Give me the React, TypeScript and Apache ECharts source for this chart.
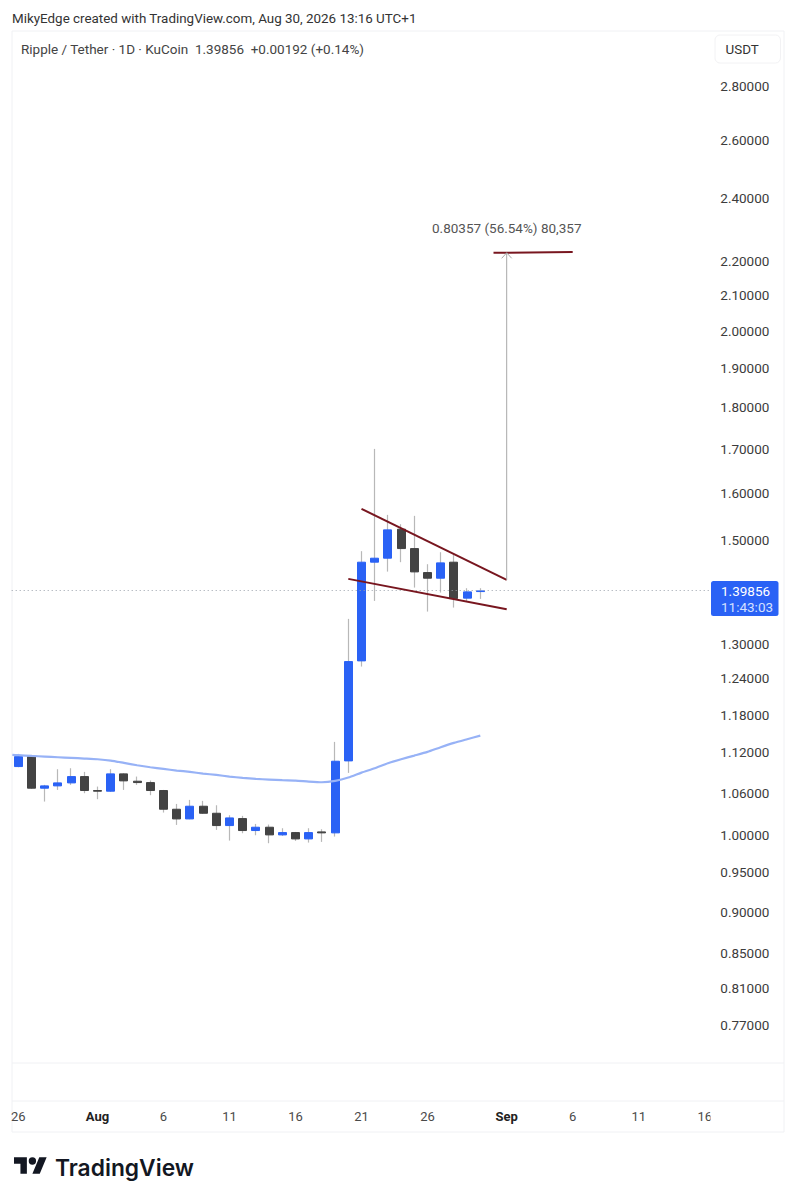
import React, { useEffect, useRef } from "react";
import * as echarts from "echarts";

const categories = ["26","27","28","29","30","31","Aug","2","3","4","5","6","7","8","9","10","11","12","13","14","15","16","17","18","19","20","21","22","23","24","25","26","27","28","29","30","31","Sep","2","3","4","5","6","7","8","9","10","11","12","13","14","15","16"];
const shownDayLabels = ["26","Aug","6","11","16","21","Sep"];
const opens = [1.0985,1.1137,1.0663,1.0697,1.0741,1.0835,1.0629,1.0619,1.0875,1.0766,1.0746,1.0629,1.0359,1.0222,1.0402,1.0302,1.0129,1.0227,1.0060,1.0106,1.0000,1.0032,0.9945,1.0041,1.0028,1.1071,1.2703,1.4549,1.4629,1.5224,1.4824,1.4343,1.4232,1.4549,1.3847,1.3973];
const closes = [1.1137,1.0663,1.0697,1.0741,1.0835,1.0629,1.0619,1.0875,1.0771,1.0746,1.0629,1.0359,1.0222,1.0402,1.0302,1.0129,1.0236,1.0060,1.0106,1.0000,1.0032,0.9945,1.0032,1.0028,1.1066,1.2691,1.4549,1.4629,1.5210,1.4824,1.4356,1.4232,1.4535,1.3839,1.3967,1.39856];
const lows = [1.0975,1.0653,1.0469,1.0638,1.0712,1.0590,1.0503,1.0609,1.0638,1.0712,1.0561,1.0312,1.0138,1.0218,1.0293,1.0069,0.9922,1.0023,0.9995,0.9886,0.9986,0.9918,0.9895,0.9904,0.9977,1.0890,1.2604,1.3795,1.4362,1.4549,1.4050,1.3594,1.3954,1.3669,1.3782,1.3833];
const highs = [1.1178,1.1163,1.0712,1.0945,1.0960,1.0905,1.0687,1.0945,1.0885,1.0835,1.0776,1.0638,1.0435,1.0493,1.0479,1.0416,1.0274,1.0265,1.0152,1.0143,1.0092,1.0041,1.0092,1.0078,1.1364,1.3458,1.4771,1.7001,1.5527,1.5329,1.5506,1.4509,1.4750,1.4696,1.4038,1.4038];
const maValues = [1.1158,1.1147,1.1137,1.1127,1.1117,1.1107,1.1096,1.1076,1.1041,1.1005,1.0975,1.0950,1.0925,1.0905,1.0880,1.0860,1.0835,1.0815,1.0800,1.0790,1.0781,1.0776,1.0761,1.0751,1.0771,1.0820,1.0894,1.0960,1.1036,1.1097,1.1152,1.1209,1.1281,1.1348,1.1406,1.1463];
const priceTicks = [2.8,2.6,2.4,2.2,2.1,2.0,1.9,1.8,1.7,1.6,1.5,1.3,1.24,1.18,1.12,1.06,1.0,0.95,0.9,0.85,0.81,0.77];
const lastPrice = 1.39856;
const upperTrend = [[26,1.5656],[37,1.4199]];
const lowerTrend = [[25,1.4219],[37,1.3639]];
const targetLine = [[36,2.2262],[42,2.2283]];
const measureShaft = [[37,1.4199],[37,2.2262]];
const measureHead = [[36.62,2.2094],[37,2.2262],[37.38,2.2094]];
const maStart = [-0.45,1.1163];

const FONT = "Roboto";
const BLUE = "#2a62f5";
const DARK = "#434343";
const WICK = "#b8b8b8";
const MAROON = "#78161f";
const FRAME = "#f0f1f4";

echarts.graphic.registerShape("tvLogo", echarts.graphic.extendPath("M14 22H7V11H0V4h14v18zM28 22h-8l7.5-18h8L28 22zM24 8a4 4 0 1 1-8 0a4 4 0 1 1 8 0z", {}));

const trendSeries = (data: number[][], color: string, width: number) => ({
  type: "line", xAxisIndex: 1, yAxisIndex: 0, data, showSymbol: false, symbol: "none", silent: true, z: 6,
  lineStyle: { color, width },
});

export default function App() {
  const ref = useRef<HTMLDivElement>(null);
  useEffect(() => {
    const chart = echarts.init(ref.current!, null, { renderer: "svg" });
    const text = (x: number, y: number, t: string, size: number, fill: string, extra: any = {}) => ({
      type: "text", x, y, silent: true, z: 20,
      style: { text: t, fontFamily: FONT, fontSize: size, fill, verticalAlign: "middle", ...extra },
    });
    const hline = (y: number) => ({ type: "line", silent: true, z: 1, shape: { x1: 12, y1: y, x2: 784, y2: y }, style: { stroke: FRAME, lineWidth: 1 } });
    chart.setOption({
      animation: false,
      backgroundColor: "#ffffff",
      grid: { left: 11.7, top: 31, width: 699.6, height: 1070, containLabel: false },
      xAxis: [
        {
          type: "category", data: categories, boundaryGap: true,
          axisLine: { show: false }, axisTick: { show: false }, splitLine: { show: false },
          axisLabel: {
            margin: 9, color: "#4a4a4a", fontFamily: FONT, fontSize: 13,
            interval: (_: number, v: string) => shownDayLabels.includes(v),
            formatter: (v: string) => (v === "Aug" || v === "Sep" ? `{b|${v}}` : v),
            rich: { b: { fontFamily: FONT, fontSize: 13, fontWeight: 700, color: "#222222" } },
          },
        },
        { type: "value", min: -0.5, max: 52.5, show: false },
      ],
      yAxis: {
        type: "log", logBase: 10, position: "right", min: 0.6936, max: 3.02,
        axisLine: { show: false }, axisTick: { show: false }, splitLine: { show: false }, minorTick: { show: false }, minorSplitLine: { show: false },
        axisLabel: {
          customValues: priceTicks, margin: 9, color: "#3c3c3c", fontFamily: FONT, fontSize: 13.5,
          formatter: (v: number) => Number(v).toFixed(5),
        },
      },
      series: [
        {
          type: "candlestick", name: "wick", xAxisIndex: 0, yAxisIndex: 0, barWidth: 1, silent: true, z: 3,
          data: opens.map((o, i) => [o, closes[i], lows[i], highs[i]]),
          itemStyle: { color: WICK, color0: WICK, borderColor: WICK, borderColor0: WICK, borderWidth: 1.2 },
          markLine: {
            silent: true, symbol: "none", label: { show: false }, animation: false,
            lineStyle: { color: "#9aa0ab", type: [1, 3], width: 1 },
            data: [{ yAxis: lastPrice }],
          },
        },
        {
          type: "candlestick", name: "body", xAxisIndex: 0, yAxisIndex: 0, barWidth: 8.6, silent: true, z: 4,
          data: opens.map((o, i) => [o, closes[i], Math.min(o, closes[i]), Math.max(o, closes[i])]),
          itemStyle: { color: BLUE, color0: DARK, borderColor: BLUE, borderColor0: DARK, borderWidth: 1 },
        },
        {
          type: "line", name: "MA", xAxisIndex: 1, yAxisIndex: 0, showSymbol: false, symbol: "none", silent: true, z: 5, smooth: 0.2,
          data: [maStart, ...maValues.map((v, i) => [i, v])],
          lineStyle: { color: "#97b2f6", width: 2.2 },
        },
        trendSeries(upperTrend, MAROON, 2),
        trendSeries(lowerTrend, MAROON, 2),
        trendSeries(targetLine, MAROON, 2),
        trendSeries(measureShaft, "#a8a8a8", 1),
        trendSeries(measureHead, "#a8a8a8", 1),
      ],
      graphic: [
        { type: "rect", silent: true, z: 0, shape: { x: 12, y: 31, width: 772, height: 1101 }, style: { fill: "none", stroke: FRAME, lineWidth: 1 } },
        hline(1063),
        hline(1101),
        { type: "rect", silent: true, z: 20, shape: { x: 710.5, y: 1106, width: 8, height: 22 }, style: { fill: "#ffffff" } },
        text(12, 18, "MikyEdge created with TradingView.com, Aug 30, 2026 13:16 UTC+1", 13.4, "#333333"),
        text(21, 48.5, "Ripple / Tether · 1D · KuCoin  1.39856  +0.00192 (+0.14%)", 13.5, "#444444"),
        { type: "rect", silent: true, z: 2, shape: { x: 715, y: 35, width: 65.5, height: 28, r: 5 }, style: { fill: "#ffffff", stroke: "#f2f2f4", lineWidth: 1 } },
        text(725.5, 49.5, "USDT", 13.4, "#333333"),
        text(432, 228, "0.80357 (56.54%) 80,357", 13.5, "#555555"),
        { type: "rect", silent: true, z: 10, shape: { x: 711, y: 581, width: 67.5, height: 35, r: 2.5 }, style: { fill: BLUE } },
        text(721, 591, "1.39856", 13.5, "#ffffff"),
        text(721, 607, "11:43:03", 13.5, "#d5e0ff"),
        { type: "tvLogo", silent: true, x: 14, y: 1153.6, scaleX: 0.92, scaleY: 0.92, style: { fill: "#131722" } },
        text(55, 1167, "TradingView", 22.8, "#131722", { fontFamily: "Inter", fontWeight: 600 }),
      ],
    });
    return () => chart.dispose();
  }, []);
  return <div ref={ref} style={{ position: "absolute", left: 0, top: 0, width: 796, height: 1200 }} />;
}
